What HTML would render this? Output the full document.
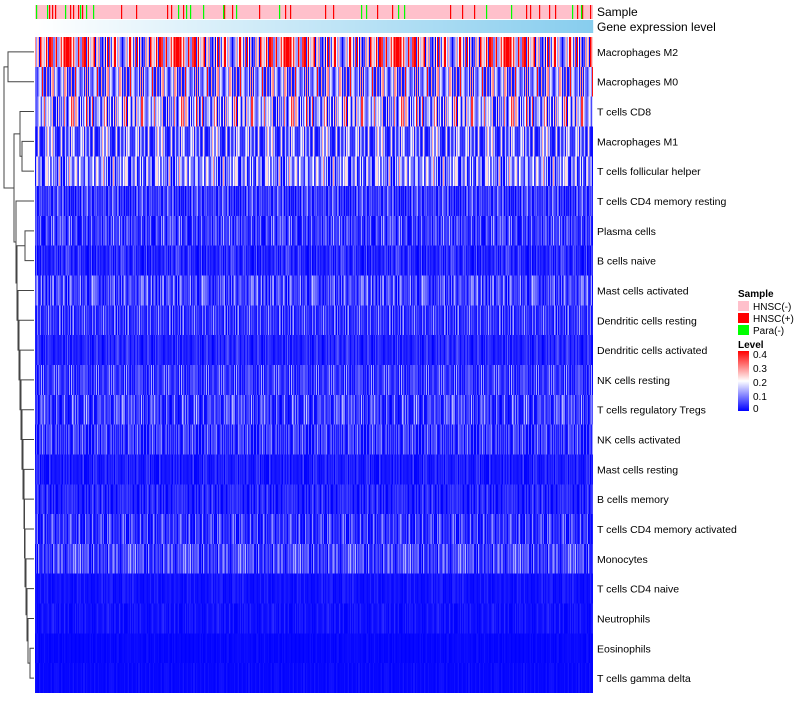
<!DOCTYPE html>
<html><head><meta charset="utf-8"><style>
body{margin:0;background:#fff;width:800px;height:700px;overflow:hidden;font-family:"Liberation Sans",sans-serif}
svg text{font-family:"Liberation Sans",sans-serif}
</style></head><body>
<svg id="chart" width="800" height="700" xmlns="http://www.w3.org/2000/svg">
<defs>
<linearGradient id="levelGrad" x1="0" x2="0" y1="1" y2="0"><stop offset="0" stop-color="#0000ff"/><stop offset="0.5" stop-color="#ffffff"/><stop offset="1" stop-color="#ff0000"/></linearGradient>
</defs>
<g id="annot"></g>
<g id="gene"></g>
<text x="597" y="16" font-size="12">Sample</text>
<text x="597" y="31" font-size="12">Gene expression level</text>
<g id="cells" shape-rendering="crispEdges"></g>
<g id="labels"></g>
<g id="dendro" stroke="#444" fill="none" stroke-width="1"></g>
<g font-size="10">
<text x="738" y="297" font-weight="bold">Sample</text>
<rect x="738" y="301" width="11" height="10" fill="#ffc0cb"/>
<text x="753" y="310">HNSC(-)</text>
<rect x="738" y="313" width="11" height="10" fill="#ff0000"/>
<text x="753" y="322">HNSC(+)</text>
<rect x="738" y="325" width="11" height="10" fill="#00ff00"/>
<text x="753" y="334">Para(-)</text>
<text x="738" y="348" font-weight="bold">Level</text>
<rect x="738" y="351" width="11" height="60" fill="url(#levelGrad)"/>
<text x="753" y="358">0.4</text>
<text x="753" y="372">0.3</text>
<text x="753" y="386">0.2</text>
<text x="753" y="400">0.1</text>
<text x="753" y="412">0</text>
</g>
</svg>
<script>
const rowNames=["Macrophages M2","Macrophages M0","T cells CD8","Macrophages M1","T cells follicular helper","T cells CD4 memory resting","Plasma cells","B cells naive","Mast cells activated","Dendritic cells resting","Dendritic cells activated","NK cells resting","T cells regulatory  Tregs","NK cells activated","Mast cells resting","B cells memory","T cells CD4 memory activated","Monocytes","T cells CD4 naive","Neutrophils","Eosinophils","T cells gamma delta"];
const rowMeans=[0.24,0.15,0.14,0.10,0.10,0.055,0.05,0.03,0.055,0.045,0.03,0.055,0.055,0.045,0.02,0.03,0.04,0.05,0.012,0.012,0.006,0.006];
const colFactors=[1.2,0.1,1.9,0.9,0.0,1.5,1.1,0.5,2.6,0.8,1.0,0.2,1.6,0.6,1.3,0.0,2.1,1.0,0.4,1.4,0.9,2.8,0.5,1.2,0.2,1.8,0.7,1.1,0.1,1.5,1.0,0.6,2.3,0.3,1.3,0.9,0.5,1.7,1.1,0.4,0.0,2.0,0.8,1.2,0.3,1.6,0.7,2.4,0.2,1.0,0.6,1.4,0.1,1.9,0.9];
const sampleTypes=["HNSC(-)","HNSC(+)","Para(-)"];
const redPositions=[49,52,55,70,73,78,82,121,136,167,171,183,224,232,259,285,290,325,333,377,392,450,462,474,526,530,539,549,555,577,582,590];
const greenPositions=[36,47,65,80,86,93,178,186,190,203,223,236,279,361,366,398,404,486,511,572,581];
const tree=[[0,1,25],[[2,[3,4,11],13],[5,[[6,7,8],[8,[9,[10,[11,[12,[13,[14,[15,[16,[17,[18,[19,[20,21,3],5],6],7],8],8.5],9],10],11],12],13],14],15],16],17],19],29];

const NS="http://www.w3.org/2000/svg";
const X0=35,X1=593,Y0=37,Y1=693,NC=558;
const rowH=(Y1-Y0)/rowNames.length, colW=(X1-X0)/NC;
function yOf(i){return Y0+rowH*i;}
function xOf(j){return X0+colW*j;}
function color(v){v=Math.max(0,Math.min(0.4,v));
 if(v<0.2){const t=v/0.2;const c=Math.round(255*t);return `rgb(${c},${c},255)`;}
 const t=(v-0.2)/0.2;const c=Math.round(255*(1-t));return `rgb(255,${c},${c})`;}
const cells=document.getElementById('cells');
const L=colFactors.length;
rowNames.forEach((n,i)=>{
 for(let j=0;j<NC;j++){
  const f=colFactors[(j*7+i*13+((j*(i+3)*(j+i))>>2))%L];
  const r=document.createElementNS(NS,'rect');
  r.setAttribute('x',xOf(j));r.setAttribute('y',yOf(i));
  r.setAttribute('width',colW);r.setAttribute('height',rowH);
  r.setAttribute('fill',color(rowMeans[i]*f));
  
  
  cells.appendChild(r);
 }
 const t=document.createElementNS(NS,'text');
 t.setAttribute('x',597);t.setAttribute('y',yOf(i)+rowH/2+4);t.setAttribute('font-size','10.5');
 t.textContent=n;
 
 
 document.getElementById('labels').appendChild(t);
});
const gene=document.getElementById('gene');
for(let j=0;j<NC;j+=2){
 const t=j/NC;
 const r=document.createElementNS(NS,'rect');
 r.setAttribute('x',xOf(j));r.setAttribute('y',20);r.setAttribute('width',2.2);r.setAttribute('height',13);
 r.setAttribute('fill',`rgb(${Math.round(255-120*t)},${Math.round(255-50*t)},${Math.round(255-17*t)})`);
 
 
 gene.appendChild(r);
}
const annot=document.getElementById('annot');
const bg=document.createElementNS(NS,'rect');
bg.setAttribute('x',X0);bg.setAttribute('y',5);bg.setAttribute('width',X1-X0);bg.setAttribute('height',14);bg.setAttribute('fill','#ffc0cb');


annot.appendChild(bg);
[[redPositions,'#ff0000'],[greenPositions,'#00ff00']].forEach(([arr,c])=>arr.forEach(p=>{
 const r=document.createElementNS(NS,'rect');
 r.setAttribute('x',p);r.setAttribute('y',5);r.setAttribute('width',1.2);r.setAttribute('height',14);r.setAttribute('fill',c);
 
 
 annot.appendChild(r);
}));
const dendro=document.getElementById('dendro');
function hx(h){return X0-2-h;}
function draw(node){
 if(typeof node==='number') return {y:yOf(node)+rowH/2,x:X0-1};
 const a=draw(node[0]),b=draw(node[1]),x=hx(node[2]);
 const p=document.createElementNS(NS,'path');
 p.setAttribute('d',`M${a.x},${a.y}H${x}V${b.y}H${b.x}`);
 
 
 dendro.appendChild(p);
 return {x:x,y:(a.y+b.y)/2};
}
draw(tree);
</script>
</body></html>
